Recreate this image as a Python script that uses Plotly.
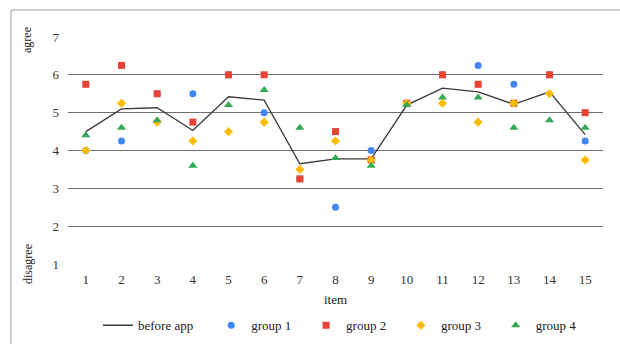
import plotly.graph_objects as go

items = list(range(1, 16))
before_app = [4.5, 5.1, 5.13, 4.53, 5.42, 5.33, 3.65, 3.78, 3.78, 5.2, 5.65, 5.55, 5.22, 5.55, 4.42]
group1 = [4.0, 4.25, 5.5, 5.5, 6.0, 5.0, 3.25, 2.5, 4.0, 5.25, 6.0, 6.25, 5.75, 6.0, 4.25]
group2 = [5.75, 6.25, 5.5, 4.75, 6.0, 6.0, 3.25, 4.5, 3.75, 5.25, 6.0, 5.75, 5.25, 6.0, 5.0]
group3 = [4.0, 5.25, 4.75, 4.25, 4.5, 4.75, 3.5, 4.25, 3.75, 5.25, 5.25, 4.75, 5.25, 5.5, 3.75]
group4 = [4.4, 4.6, 4.8, 3.6, 5.2, 5.6, 4.6, 3.8, 3.6, 5.2, 5.4, 5.4, 4.6, 4.8, 4.6]
y_ticks = [1, 2, 3, 4, 5, 6, 7]

FONT = "Liberation Serif, Times New Roman, serif"
PAD = "\u00a0"

fig = go.Figure()
fig.add_trace(go.Scatter(x=items, y=before_app, mode="lines", name="before app" + PAD * 4,
                         line=dict(color="#3a3a3a", width=1.3)))
fig.add_trace(go.Scatter(x=items, y=group1, mode="markers", name="group 1" + PAD * 3,
                         marker=dict(symbol="circle", size=7, color="#4285F4")))
fig.add_trace(go.Scatter(x=items, y=group2, mode="markers", name="group 2" + PAD * 3,
                         marker=dict(symbol="square", size=7, color="#EA4335")))
fig.add_trace(go.Scatter(x=items, y=group3, mode="markers", name="group 3" + PAD * 3,
                         marker=dict(symbol="diamond", size=7, color="#FBBC04")))
fig.add_trace(go.Scatter(x=items, y=group4, mode="markers", name="group 4",
                         marker=dict(symbol="triangle-up", size=8, color="#34A853")))

fig.update_layout(
    width=620, height=344,
    margin=dict(l=68, r=17, t=37, b=80, autoexpand=False),
    paper_bgcolor="white", plot_bgcolor="white",
    font=dict(family=FONT, size=13, color="#333333"),
    showlegend=True,
    legend=dict(orientation="h", x=(340 - 68) / 535, xanchor="center", y=-0.27, yanchor="middle",
                font=dict(family=FONT, size=13, color="#222222"),
                itemwidth=30, bgcolor="rgba(0,0,0,0)"),
    xaxis=dict(range=[0.5, 15.5], tickmode="array", tickvals=items,
               ticktext=[str(i) for i in items], showgrid=False, zeroline=False,
               showline=False, ticks="", ticklabelstandoff=6,
               title=dict(text="item", standoff=8, font=dict(family=FONT, size=13, color="#222222"))),
    yaxis=dict(range=[1, 7], tickmode="array", tickvals=y_ticks,
               showgrid=True, gridcolor="#6e6e6e", gridwidth=1.2, zeroline=False,
               showline=False, ticks="", ticklabelstandoff=8),
    shapes=[
        dict(type="line", xref="paper", yref="paper", x0=-57/535, x1=-57/535, y0=-0.5, y1=(264-10)/227,
             line=dict(color="#a0a0a0", width=1), layer="above"),
        dict(type="line", xref="paper", yref="paper", x0=-57/535, x1=1.2, y0=(264-10)/227, y1=(264-10)/227,
             line=dict(color="#a0a0a0", width=1), layer="above"),
    ],
    annotations=[
        dict(text="agree", xref="paper", yref="paper", x=-41/535, y=(264-40)/227,
             xanchor="center", yanchor="middle",
             showarrow=False, textangle=-90, font=dict(family=FONT, size=12, color="#222222")),
        dict(text="disagree", xref="paper", yref="paper", x=-40/535, y=0,
             xanchor="center", yanchor="middle",
             showarrow=False, textangle=-90, font=dict(family=FONT, size=12, color="#222222")),
    ],
)

fig.write_html("out.html", config={"displayModeBar": False},
               post_script="document.body.style.margin='0';document.body.style.overflow='hidden';")
